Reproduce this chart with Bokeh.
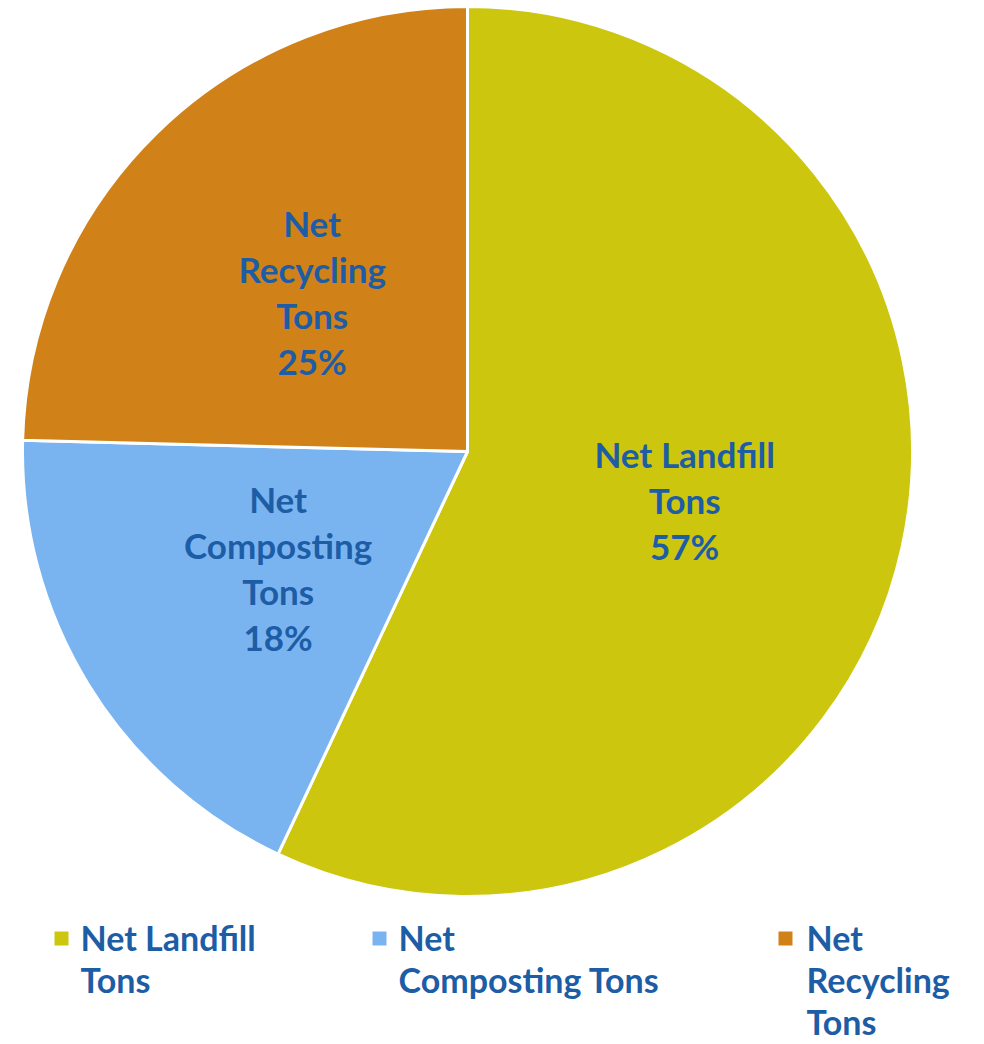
import math
from bokeh.plotting import figure
from bokeh.models import Range1d
from bokeh.core.properties import value
from bokeh.embed import file_html
from bokeh.resources import INLINE

categories = ["Net Landfill Tons", "Net Composting Tons", "Net Recycling Tons"]
values = [57.0, 18.4, 24.6]
pct_labels = ["57%", "18%", "25%"]
slice_label_lines = [["Net Landfill", "Tons"], ["Net", "Composting", "Tons"], ["Net", "Recycling", "Tons"]]
legend_label_lines = [["Net Landfill", "Tons"], ["Net", "Composting Tons"], ["Net", "Recycling", "Tons"]]
colors = ["#CDC60F", "#7AB4F0", "#D08219"]
TEXT = "#1D5DA6"
FONT = "Lato"
FSIZE = "35px"
LEG_FSIZE = "34px"

W, H = 984, 1044
p = figure(width=W, height=H, output_backend="svg", toolbar_location=None,
           x_range=Range1d(0, W), y_range=Range1d(0, H),
           min_border=0)
p.axis.visible = False
p.grid.visible = False
p.outline_line_color = None
p.background_fill_color = "white"

def Y(img_y):
    return 1044 - img_y

cx, cy, R = 467, Y(451), 445
total = sum(values)
start = math.pi / 2
for i, v in enumerate(values):
    sweep = v / total * 2 * math.pi
    end = start - sweep
    p.wedge(x=[cx], y=[cy], radius=R, start_angle=start, end_angle=end,
            direction="clock", fill_color=colors[i], line_color="white", line_width=3)
    mid = start - sweep / 2
    lx = cx + 0.5 * R * math.cos(mid)
    ly = cy + 0.5 * R * math.sin(mid)
    lines = slice_label_lines[i] + [pct_labels[i]]
    n = len(lines)
    step = 46
    for j, t in enumerate(lines):
        yy = ly + ((n - 1) / 2 - j) * step
        p.text(x=[lx], y=[yy], text=[t], text_align="center", text_baseline="middle",
               text_font=value(FONT), text_font_style="bold", text_font_size=FSIZE,
               text_color=TEXT)
    start = end

# legend
leg_sq_x = [61, 379, 785]
leg_txt_x = [80, 398, 806]
for i in range(3):
    p.rect(x=[leg_sq_x[i]], y=[Y(938)], width=14, height=14, fill_color=colors[i], line_color=None)
    for j, t in enumerate(legend_label_lines[i]):
        p.text(x=[leg_txt_x[i]], y=[Y(937 + 42 * j)], text=[t], text_align="left",
               text_baseline="middle", text_font=value(FONT), text_font_style="bold",
               text_font_size=LEG_FSIZE, text_color=TEXT)

open("out.html", "w").write(file_html(p, INLINE))
